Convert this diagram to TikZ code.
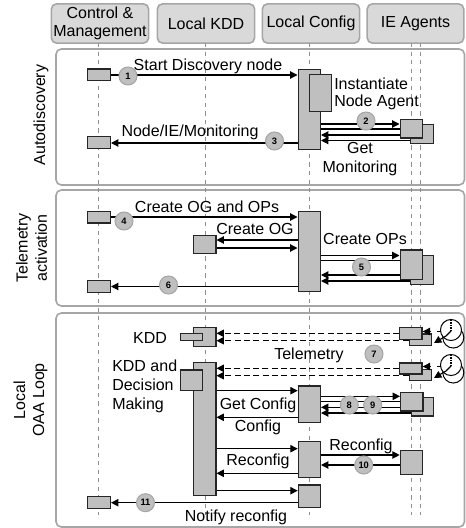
\documentclass[tikz,border=0pt]{standalone}
\usepackage{fontspec}
\setmainfont{Liberation Sans}
\usetikzlibrary{arrows.meta}
\definecolor{hdrfill}{HTML}{D9D9D9}
\definecolor{hdrline}{HTML}{A6A6A6}
\definecolor{boxfill}{HTML}{BFBFBF}
\definecolor{lifeline}{HTML}{909090}
\tikzset{
  x=0.75pt,y=-0.75pt,
  hdr/.style={draw=hdrline,fill=hdrfill,line width=1.2pt,rounded corners=4pt,minimum width=73pt,minimum height=29.5pt,inner sep=0pt,align=center,font=\fontsize{12}{13.5}\selectfont},
  panel/.style={draw=hdrline,line width=1.2pt,rounded corners=4pt,fill=white},
  life/.style={draw=lifeline,dashed,dash pattern=on 3.2pt off 3.2pt,line width=0.55pt},
  bx/.style={draw=black!85,fill=boxfill,line width=1.1pt},
  msg/.style={draw=black,line width=0.85pt},
  ah/.style={msg,-{Triangle[length=5.5pt,width=5.5pt]}},
  da/.style={ah,dash pattern=on 4.5pt off 2.5pt},
  dl/.style={msg,dash pattern=on 4.5pt off 2.5pt},
  num/.style={circle,draw=hdrline,fill=boxfill,line width=0.8pt,minimum size=13.5pt,inner sep=0pt,font=\fontsize{7}{8}\selectfont\bfseries},
  txt/.style={inner sep=0pt,font=\fontsize{12}{14.3}\selectfont,align=center},
  ltx/.style={inner sep=0pt,font=\fontsize{12}{13}\selectfont,align=left,anchor=west},
  ltxb/.style={ltx,font=\fontsize{12}{14.3}\selectfont},
  side/.style={inner sep=0pt,font=\fontsize{12}{14.3}\selectfont,align=center,rotate=90},
  clk/.style={draw=black,fill=white,line width=0.75pt}
}
\newcommand{\bxat}[5]{\node[bx,minimum width=#4*0.75pt-1.1pt,minimum height=#5*0.75pt-1.1pt,inner sep=0pt,anchor=north west] (#1) at (#2,#3) {};}
\begin{document}
\begin{tikzpicture}
\useasboundingbox (0,0) rectangle (465,528);
% panels
\draw[panel] (56,49) rectangle (464.5,185);
\draw[panel] (56,190) rectangle (464.5,306);
\draw[panel] (56,313) rectangle (464.5,527);
% headers
\node[hdr] (hc) at (100,23.5) {Control \&\\Management};
\node[hdr] (hk) at (206,23.5) {Local KDD};
\node[hdr] (hl) at (311,23.5) {Local Config};
\node[hdr,minimum width=72.5pt] (hi) at (415.5,23.5) {IE Agents};
% lifelines
\coordinate (e1) at (98,515); \coordinate (e2) at (205,515); \coordinate (e3) at (309,515);
\coordinate (e4) at (411,515); \coordinate (e5) at (420.5,515);
\coordinate (s1) at (98,43); \coordinate (s2) at (205,43); \coordinate (s3) at (309,43);
\coordinate (s4) at (411,43); \coordinate (s5) at (420.5,43);
\foreach \i in {1,...,5} \draw[life] (s\i) -- (e\i);
% side labels
\node[side] (la) at (41,115) {Autodiscovery};
\node[side] (lb) at (31.5,248) {Telemetry\\activation};
\node[side] (lc) at (30.5,400) {Local\\OAA Loop};
% ---- Autodiscovery
\bxat{a1}{87}{68.5}{24}{13}
\bxat{a2}{87}{135.5}{24}{13.5}
\bxat{a3}{297.5}{69}{23.5}{81}
\bxat{a4}{308.5}{74}{23.5}{38}
\bxat{a6}{410}{123.5}{24}{20.5}
\bxat{a5}{399.5}{118.5}{23.5}{20}
\draw[ah] (a1.east |- 0,75) -- (a3.west |- 0,75);
\draw[ah] (a3.east |- 0,124) -- (a5.west |- 0,124);
\draw[msg] (a3.east |- 0,129) -- (a5.west |- 0,129);
\draw[ah] (a5.west |- 0,135) -- (a3.east |- 0,135);
\draw[ah] (a6.south west |- 0,140.5) -- (a3.east |- 0,140.5);
\draw[ah] (a3.west |- 0,143) -- (a2.east |- 0,143);
\node[num] (n1) at (128,76) {1};
\node[num] (n2) at (366,121) {2};
\node[num] (n3) at (274.5,141) {3};
\node[txt] (t1) at (208,66.5) {Start Discovery node};
\node[ltx] (t2) at (334,94) {Instantiate\\Node Agent};
\node[txt] (t3) at (360,159) {Get\\Monitoring};
\node[txt] (t4) at (190,132) {Node/IE/Monitoring};
% ---- Telemetry
\bxat{b1}{87}{210.7}{24}{13}
\bxat{b2}{87}{280}{24}{13}
\bxat{b3}{193}{234.7}{23.5}{19.6}
\bxat{b4}{297.5}{211}{23.5}{81}
\bxat{b6}{410}{254.5}{24}{30.5}
\bxat{b5}{399.5}{249.3}{23.5}{30.7}
\draw[ah] (b1.east |- 0,217) -- (b4.west |- 0,217);
\draw[ah] (b4.west |- 0,240) -- (b3.east |- 0,240);
\draw[ah] (b3.east |- 0,248) -- (b4.west |- 0,248);
\draw[ah] (b4.east |- 0,255.5) -- (b5.west |- 0,255.5);
\draw[msg] (b4.east |- 0,260.5) -- (b5.west |- 0,260.5);
\draw[ah] (b5.west |- 0,275) -- (b4.east |- 0,275);
\draw[ah] (b6.south west |- 0,281) -- (b4.east |- 0,281);
\draw[ah] (b4.west |- 0,286.5) -- (b2.east |- 0,286.5);
\node[num] (n4) at (124,221) {4};
\node[num] (n5) at (361.5,267) {5};
\node[num] (n6) at (168.5,285) {6};
\node[txt] (t5) at (207,207) {Create OG and OPs};
\node[txt] (t6) at (255,229) {Create OG};
\node[txt] (t7) at (365,239) {Create OPs};
% ---- Local OAA
\bxat{c1}{193}{326.7}{23.5}{20.3}
\bxat{c2}{179.5}{332.7}{23.5}{8.6}
\bxat{c3}{193}{361.7}{23.5}{134.3}
\bxat{c4}{179.5}{369.3}{23.5}{22}
\node[txt] (t8) at (150,337.5) {KDD};
\node[ltxb] (t9) at (112,386.5) {KDD and\\Decision\\Making};
\bxat{d2}{408.5}{333.3}{23.5}{12.7}
\bxat{d1}{399}{326.7}{23.7}{13.3}
\bxat{d4}{408.5}{369}{23.5}{12}
\bxat{d3}{399}{362.3}{23.7}{12.4}
\draw[da] (d1.west |- 0,333.3) -- (c1.east |- 0,333.3);
\draw[da] (d2.west |- 0,340.7) -- (c1.east |- 0,340.7);
\draw[da] (d3.west |- 0,368.3) -- (c3.east |- 0,368.3);
\draw[da] (d4.west |- 0,375.7) -- (c3.east |- 0,375.7);
\node[txt] (t10) at (309,355) {Telemetry};
\node[num] (n7) at (374,354) {7};
% clocks
\foreach \n/\yy/\f/\b in {ca/0/d1/d2,cb/35/d3/d4}{
  \node[clk,circle,minimum size=15.8pt,inner sep=0pt] (\n b) at (453.3,337.5+\yy) {};
  \node[clk,circle,minimum size=15.8pt,inner sep=0pt] (\n a) at (451,330+\yy) {};
  \coordinate (\n t) at (451,320+\yy);
  \coordinate (\n u) at (451,331+\yy);
  \coordinate (\n s) at (441,331.5+\yy);
  \coordinate (\n g) at (437,331.5+\yy);
  \coordinate (\n h) at (431,331.5+\yy);
  \coordinate (\n r) at (446,336+\yy);
  \coordinate (\n q) at (434,343+\yy);
  \draw[msg,densely dotted] (\n t) -- (\n u);
  \draw[msg] (\n u) -- (\n r);
  \draw[msg] (\n s) -- (\n g);
  \draw[ah] (\n h) -- (\f.east |- \n h);
  \draw[ah] (\n r) -- (\n q);
}
% get config
\bxat{e1b}{297.7}{385.3}{23.3}{37.7}
\bxat{e3b}{410.7}{396.7}{23.3}{20}
\bxat{e2b}{400}{391.7}{23.7}{20}
\draw[ah] (c3.east |- 0,390.7) -- (e1b.west |- 0,390.7);
\draw[ah] (e1b.west |- 0,417.3) -- (c3.east |- 0,417.3);
\draw[ah] (e1b.east |- 0,396.3) -- (e2b.west |- 0,396.3);
\draw[msg] (e1b.east |- 0,401.7) -- (e2b.west |- 0,401.7);
\draw[ah] (e2b.west |- 0,407.3) -- (e1b.east |- 0,407.3);
\draw[ah] (e3b.south west |- 0,413) -- (e1b.east |- 0,413);
\node[txt] (t11) at (258,405.5) {Get Config};
\node[txt] (t12) at (258,427) {Config};
\node[num] (n8) at (349.3,405) {8};
\node[num] (n9) at (372.7,405) {9};
% reconfig
\bxat{f1}{297.7}{440.7}{23.3}{37.3}
\bxat{f2}{399.7}{450}{23.7}{25}
\draw[ah] (c3.east |- 0,448.7) -- (f1.west |- 0,448.7);
\draw[ah] (f1.west |- 0,473.3) -- (c3.east |- 0,473.3);
\draw[ah] (f1.east |- 0,455) -- (f2.west |- 0,455);
\draw[ah] (f2.west |- 0,465) -- (f1.east |- 0,465);
\node[txt] (t13) at (258,461) {Reconfig};
\node[txt] (t14) at (361,446.5) {Reconfig};
\node[num] (n10) at (363.7,465) {10};
% notify
\bxat{g1}{297.7}{484.3}{23.3}{23.7}
\bxat{g2}{87}{495.7}{24}{13.3}
\draw[ah] (c3.east |- 0,490.7) -- (g1.west |- 0,490.7);
\draw[ah] (g1.west |- 0,502.7) -- (g2.east |- 0,502.7);
\node[num] (n11) at (145.5,502.7) {11};
\node[txt] (t15) at (236,517) {Notify reconfig};
\end{tikzpicture}
\end{document}
